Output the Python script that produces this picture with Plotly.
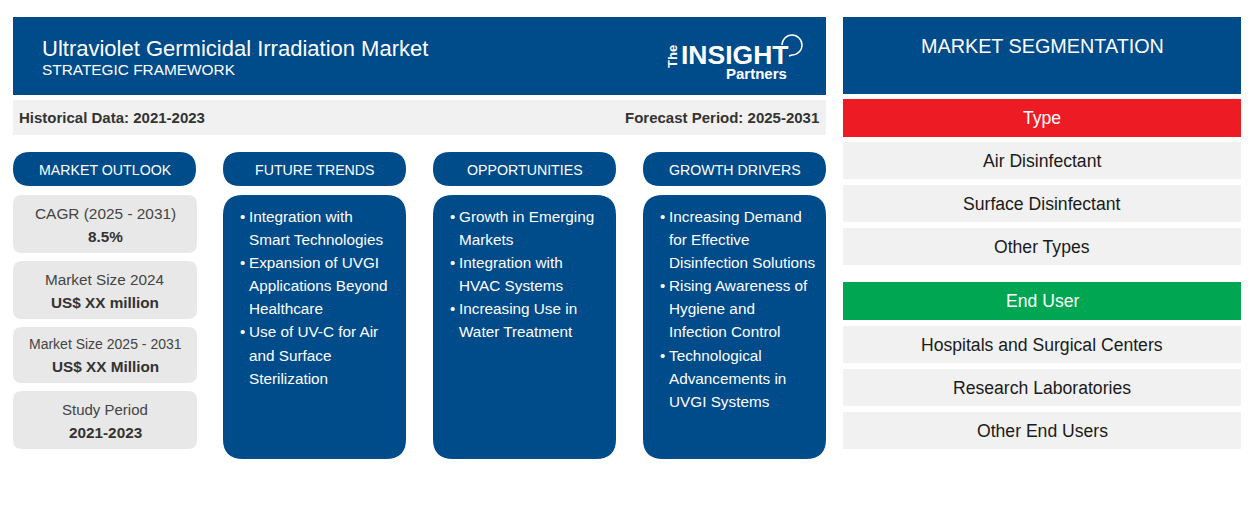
import plotly.graph_objects as go

# colours
BLUE = "#004b8a"
RED = "#ed1c24"
GREEN = "#00a651"
BAND = "#f1f1f1"
CARD = "#e8e8e8"
FONT = "Liberation Sans"

TITLE = "Ultraviolet Germicidal Irradiation Market"
SUBTITLE = "STRATEGIC FRAMEWORK"
HISTORICAL = "Historical Data: 2021-2023"
FORECAST = "Forecast Period: 2025-2031"
COLUMN_HEADS = ["MARKET OUTLOOK", "FUTURE TRENDS", "OPPORTUNITIES", "GROWTH DRIVERS"]
OUTLOOK_LABELS = ["CAGR (2025 - 2031)", "Market Size 2024", "Market Size 2025 - 2031", "Study Period"]
OUTLOOK_VALUES = ["8.5%", "US$ XX million", "US$ XX Million", "2021-2023"]
FUTURE_TRENDS = [["Integration with", "Smart Technologies"],
                 ["Expansion of UVGI", "Applications Beyond", "Healthcare"],
                 ["Use of UV-C for Air", "and Surface", "Sterilization"]]
OPPORTUNITIES = [["Growth in Emerging", "Markets"],
                 ["Integration with", "HVAC Systems"],
                 ["Increasing Use in", "Water Treatment"]]
GROWTH_DRIVERS = [["Increasing Demand", "for Effective", "Disinfection Solutions"],
                  ["Rising Awareness of", "Hygiene and", "Infection Control"],
                  ["Technological", "Advancements in", "UVGI Systems"]]
SEGMENT_TITLE = "MARKET SEGMENTATION"
TYPE_HEAD = "Type"
TYPE_ITEMS = ["Air Disinfectant", "Surface Disinfectant", "Other Types"]
USER_HEAD = "End User"
USER_ITEMS = ["Hospitals and Surgical Centers", "Research Laboratories", "Other End Users"]

fig = go.Figure()


def box(x0, y0, x1, y1, color, r=0):
    if r == 0:
        fig.add_shape(type="rect", x0=x0, y0=y0, x1=x1, y1=y1, fillcolor=color, line_width=0, layer="below")
        return
    path = (f"M {x0+r} {y0} L {x1-r} {y0} Q {x1} {y0} {x1} {y0+r} L {x1} {y1-r} Q {x1} {y1} {x1-r} {y1} "
            f"L {x0+r} {y1} Q {x0} {y1} {x0} {y1-r} L {x0} {y0+r} Q {x0} {y0} {x0+r} {y0} Z")
    fig.add_shape(type="path", path=path, fillcolor=color, line_width=0, layer="below")


def label(x, y, text, size, color="white", anchor="center", bold=False, angle=0):
    if bold:
        text = f"<b>{text}</b>"
    fig.add_annotation(x=x, y=y, text=text, showarrow=False, xanchor=anchor, yanchor="middle",
                       font=dict(family=FONT, size=size, color=color), textangle=angle,
                       borderpad=0, borderwidth=0)


# top banner
box(13, 17, 826, 95, BLUE)
label(42, 48, TITLE, 22, anchor="left")
label(42, 69, SUBTITLE, 15.4, anchor="left")

# logo
label(672, 57, "The", 13, angle=-90, bold=True)
label(734, 55, "INSIGHT", 26.5, bold=True)
label(756, 73, "Partners", 15, bold=True)
fig.add_shape(type="path",
              path="M 782 45 C 782 39.5 786.5 35 792 35 C 797.5 35 802 39.5 802 45 "
                   "C 802 50.5 797.5 55 792 55 L 789 56",
              line=dict(color="white", width=1.5))

# period band
box(13, 100, 826, 135, BAND)
label(19, 117, HISTORICAL, 15, "#333333", "left", True)
label(819, 117, FORECAST, 15, "#333333", "right", True)

# column heads
col_left = [13, 223, 433, 643]
for left, head in zip(col_left, COLUMN_HEADS):
    box(left, 152, left + 183, 186, BLUE, 17)
    label(left + 92, 170, head, 14.2)

# outlook cards
card_top = [195, 261, 327, 391]
card_bottom = [253, 319, 383, 449]
label_size = [15.4, 15.3, 14, 15]
value_y = [236, 302, 366, 432]
for i in range(4):
    box(13, card_top[i], 197, card_bottom[i], CARD, 9)
    label(105, card_top[i] + (18 if i != 2 else 17), OUTLOOK_LABELS[i], label_size[i], "#444444")
    label(105, value_y[i], OUTLOOK_VALUES[i], 15.3, "#333333", bold=True)

# bullet columns
line_y = [216, 239, 262, 285, 308, 331, 355, 378, 401]
for left, items in zip(col_left[1:], [FUTURE_TRENDS, OPPORTUNITIES, GROWTH_DRIVERS]):
    box(left, 195, left + 183, 459, BLUE, 20)
    n = 0
    for item in items:
        label(left + 16.5, line_y[n], "•", 15, anchor="left")
        for line in item:
            label(left + 26, line_y[n], line, 15.3, anchor="left")
            n += 1

# segmentation panel
box(843, 17, 1241, 94, BLUE)
label(1042, 46, SEGMENT_TITLE, 19.8)
box(843, 99, 1241, 137, RED)
label(1042, 118, TYPE_HEAD, 17.6)
box(843, 282, 1241, 320, GREEN)
label(1042, 301, USER_HEAD, 17.6)
for top, name in zip([142, 185, 228], TYPE_ITEMS):
    box(843, top, 1241, top + 37, BAND)
    label(1042, top + 19, name, 17.6, "#1a1a1a")
for top, name in zip([326, 369, 412], USER_ITEMS):
    box(843, top, 1241, top + 37, BAND)
    label(1042, top + 19, name, 17.6, "#1a1a1a")

fig.update_layout(
    width=1254, height=530, margin=dict(l=0, r=0, t=0, b=0),
    paper_bgcolor="white", plot_bgcolor="white", showlegend=False,
    xaxis=dict(range=[0, 1254], visible=False, fixedrange=True),
    yaxis=dict(range=[530, 0], visible=False, fixedrange=True),
)
fig.write_html("out.html", config={"displayModeBar": False},
               post_script="document.body.style.margin='0';")
